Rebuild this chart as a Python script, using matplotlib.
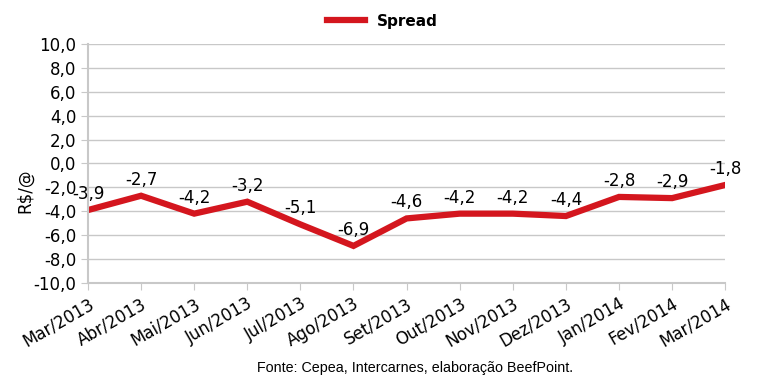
import matplotlib.pyplot as plt
from matplotlib.ticker import FuncFormatter

months = ["Mar/2013", "Abr/2013", "Mai/2013", "Jun/2013", "Jul/2013", "Ago/2013",
          "Set/2013", "Out/2013", "Nov/2013", "Dez/2013", "Jan/2014", "Fev/2014", "Mar/2014"]
spread = [-3.9, -2.7, -4.2, -3.2, -5.1, -6.9, -4.6, -4.2, -4.2, -4.4, -2.8, -2.9, -1.8]
y_ticks = [-10, -8, -6, -4, -2, 0, 2, 4, 6, 8, 10]

red = "#d4161e"
grid_c = "#c8c8c8"

fig = plt.figure(figsize=(7.65, 3.86), dpi=100)
ax = fig.add_axes([0.115, 0.267, 0.833, 0.619])

x = list(range(len(months)))
line, = ax.plot(x, spread, color=red, lw=4.5, solid_joinstyle="miter", label="Spread")

for xi, v in zip(x, spread):
    ax.annotate(("%.1f" % v).replace(".", ","), (xi, v), xytext=(0, 5),
                textcoords="offset points", ha="center", va="bottom", fontsize=12)

ax.set_xlim(0, len(months) - 1)
ax.set_ylim(-10, 10)
ax.set_yticks(y_ticks)
ax.yaxis.set_major_formatter(FuncFormatter(lambda v, p: ("%.1f" % v).replace(".", ",")))
ax.set_xticks(x)
ax.set_xticklabels(months, rotation=30, ha="right", rotation_mode="anchor", fontsize=12)
ax.tick_params(axis="y", labelsize=12, length=5, color=grid_c)
ax.tick_params(axis="x", length=5, color=grid_c)
ax.grid(axis="y", color=grid_c, lw=1)
ax.set_axisbelow(True)
for s in ["top", "right"]:
    ax.spines[s].set_visible(False)
for s in ["left", "bottom"]:
    ax.spines[s].set_color(grid_c)
    ax.spines[s].set_linewidth(1.5)

ax.set_ylabel("R$/@", fontsize=12)
ax.yaxis.set_label_coords(-0.084, 0.385)

fig.legend(handles=[line], loc="upper center", bbox_to_anchor=(0.5, 1.0), frameon=False,
           prop={"weight": "bold", "size": 11}, handlelength=2.5)

fig.text(0.542, 0.047, "Fonte: Cepea, Intercarnes, elaboração BeefPoint.",
         ha="center", va="center", fontsize=10.3, family="Liberation Sans")

fig.savefig("out.png", dpi=100)
